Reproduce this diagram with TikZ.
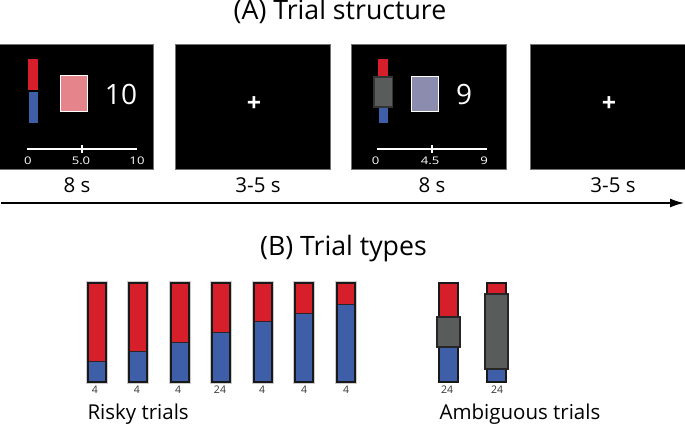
\documentclass[tikz,border=0pt]{standalone}
\usepackage{fontspec}
\setmainfont{Open Sans}
\usetikzlibrary{arrows.meta, positioning}
\definecolor{barred}{HTML}{D71F2B}
\definecolor{barblue}{HTML}{3E5FA8}
\definecolor{bargrey}{HTML}{5A5B5B}
\definecolor{cardpink}{HTML}{E5858B}
\definecolor{cardblue}{HTML}{8C8CAE}
\tikzset{
  screen/.style={draw=black!55, line width=0.7pt, fill=black, anchor=north west, minimum width=155pt, minimum height=125pt, inner sep=0pt, outer sep=0pt},
  title/.style={font=\fontsize{26.7}{28}\selectfont},
  time/.style={font=\fontsize{20.5}{22}\selectfont},
  scalenum/.style={text=white, font=\fontsize{10.5}{11}\selectfont, xscale=1.25},
  count/.style={font=\fontsize{10.5}{12}\selectfont, text=black!80},
  group/.style={font=\fontsize{20.5}{22}\selectfont, anchor=west},
  amount/.style={text=white, font=\fontsize{28}{30}\selectfont},
  cross/.style={text=white, font=\bfseries\fontsize{25}{27}\selectfont},
  card/.style={draw=white, line width=0.9pt, minimum width=27pt, inner sep=0pt},
  barline/.style={draw=black!90, line width=2.1pt},
  scaleline/.style={white, line width=2.8pt},
}
\begin{document}
\begin{tikzpicture}[x=1pt, y=-1pt]
    \useasboundingbox (0,0) rectangle (685,425);

    % Titles
    \node[title] (titleA) at (340,11) {(A) Trial structure};
    \node[title] (titleB) at (343.5,249) {(B) Trial types};

    % Screens
    \node[screen] (s1) at (-2,44) {};
    \node[screen] (s2) at (175,44) {};
    \node[screen] (s3) at (351,44) {};
    \node[screen] (s4) at (530,44) {};

    % Fixation crosses
    \node[cross] (c2) at (254,104) {+};
    \node[cross] (c4) at (609,104) {+};

    % Bar of screen 1
    \fill[barred] (28,59) rectangle (38,90.5);
    \fill[barblue] (28.5,92) rectangle (38,123);
    \node[card, fill=cardpink, minimum height=36pt] (card1) at (73.5,93) {};
    \node[amount] (n1) at (121,94) {10};

    % Bar of screen 3
    \fill[barred] (378,59) rectangle (388,80);
    \fill[barblue] (378.5,105) rectangle (388,123);
    \draw[fill=bargrey, draw=black!80, line width=1.2pt] (374,77) rectangle (392.5,107);
    \node[card, fill=cardblue, minimum height=35pt] (card3) at (424.5,93.5) {};
    \node[amount] (n3) at (464,94) {9};

    % Scales
    \draw[scaleline] (27,149) -- (137,149);
    \draw[scaleline] (82,145) -- (82,153);
    \node[scalenum] (a0) at (28,161) {0};
    \node[scalenum] (a1) at (81,161) {5.0};
    \node[scalenum] (a2) at (137,161) {10};
    \draw[scaleline] (377,149) -- (487,149);
    \draw[scaleline] (432,145) -- (432,153);
    \node[scalenum] (b0) at (375.5,161) {0};
    \node[scalenum] (b1) at (430,161) {4.5};
    \node[scalenum] (b2) at (484,161) {9};

    % Durations
    \node[time] (t1) at (77,185) {8 s};
    \node[time] (t2) at (258,185) {3-5 s};
    \node[time] (t3) at (432,185) {8 s};
    \node[time] (t4) at (613,185) {3-5 s};

    % Time arrow
    \coordinate (start) at (1,203);
    \coordinate (end) at (685,203);
    \draw[-{Latex[length=15pt,width=9pt]}, line width=2.6pt] (start) -- (end);

    % Risky bars
    \foreach \x/\split/\lab/\labx in {88/361/4/95, 129/351/4/137, 171/342/4/178, 212/332/24/220, 254/321/4/262, 295/313/4/304, 337/304/4/346} {
      \draw[black!20, line width=3.2pt] (\x,283) rectangle (\x+18,382);
      \fill[barred] (\x,283) rectangle (\x+18,\split);
      \fill[barblue] (\x,\split) rectangle (\x+18,382);
      \draw[black!85, line width=1pt] (\x,\split) -- (\x+18,\split);
      \draw[barline] (\x,283) rectangle (\x+18,382);
      \node[count] at (\labx,390) {\lab};
    }
    \node[group] (risky) at (84,414) {Risky trials};

    % Ambiguous bars
    \foreach \x/\top/\bot/\labx in {439/317/347/447, 487/294/369/497} {
      \fill[barred] (\x,283) rectangle (\x+19,\top);
      \fill[barblue] (\x,\bot) rectangle (\x+19,382);
      \draw[barline] (\x,283) rectangle (\x+19,382);
      \draw[fill=bargrey, draw=black!85, line width=2.6pt] (\x-2,\top) rectangle (\x+21,\bot);
      \node[count] at (\labx,390) {24};
    }
    \node[group] (ambig) at (436,414) {Ambiguous trials};
\end{tikzpicture}
\end{document}
